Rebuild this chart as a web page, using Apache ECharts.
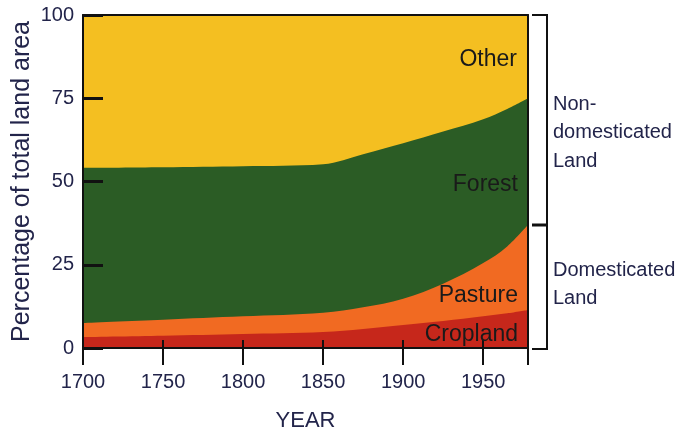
<!DOCTYPE html>
<html>
<head>
<meta charset="utf-8">
<script src="https://cdn.jsdelivr.net/npm/echarts@6/dist/echarts.min.js"></script>
<style>html,body{margin:0;padding:0;background:#fff}#c{width:681px;height:438px}</style>
</head>
<body>
<div id="c"></div>
<script>
const years    = [1700, 1750, 1800, 1850, 1875, 1900, 1925, 1950, 1965, 1978];
const cropland = [3.3, 3.7, 4.2, 4.8, 5.7, 6.9, 8.1, 9.5, 10.4, 11.4];
const pasture  = [4.2, 4.8, 5.3, 5.8, 6.5, 7.9, 11.2, 16.0, 20.1, 25.6];
const forest   = [46.6, 45.8, 45.1, 44.6, 46.0, 46.7, 45.7, 43.2, 41.3, 38.0];
const other    = [45.9, 45.7, 45.4, 44.8, 41.8, 38.5, 35.0, 31.3, 28.2, 25.0];
const seriesNames = ['Cropland', 'Pasture', 'Forest', 'Other'];
const yTicks = [0, 25, 50, 75, 100];
const xTicks = [1700, 1750, 1800, 1850, 1900, 1950];

const colors = ['#c6271b', '#f16a22', '#2b5c25', '#f4bf21'];
const axisText = '#22244a';
const font = 'Liberation Sans, Arial, Helvetica, sans-serif';

const valuesList = [cropland, pasture, forest, other];
// cumulative tops of each band (bottom band first)
const cumulative = valuesList.map((arr, k) =>
  years.map((y, i) => {
    let s = 0;
    for (let j = 0; j <= k; j++) s += valuesList[j][i];
    return [y, +s.toFixed(2)];
  }));

// draw from the top band down so lower bands paint over
const seriesList = [];
for (let k = valuesList.length - 1; k >= 0; k--) {
  seriesList.push({
    name: seriesNames[k], type: 'line', smooth: 0.35,
    symbol: 'none', xAxisIndex: 0, yAxisIndex: 0,
    data: cumulative[k],
    lineStyle: {width: 0},
    areaStyle: {color: colors[k], opacity: 1},
    z: 1
  });
}

const chart = echarts.init(document.getElementById('c'), null, {renderer: 'canvas'});
chart.setOption({
  animation: false,
  grid: {left: 83, right: 153, top: 15, bottom: 90, containLabel: false, outerBoundsMode: 'none'},
  xAxis: [
    {
      type: 'value', min: 1700, max: 1978, interval: 50,
      name: 'YEAR', nameLocation: 'middle', nameGap: 62, nameMoveOverlap: false,
      nameTextStyle: {color: axisText, fontSize: 22, fontFamily: font},
      axisLine: {show: true, lineStyle: {color: '#111', width: 2}},
      axisTick: {show: true, inside: false, length: 17, lineStyle: {color: '#111', width: 2}},
      axisLabel: {color: axisText, fontSize: 20, fontFamily: font, margin: 24,
        formatter: v => xTicks.includes(v) ? String(v) : ''},
      splitLine: {show: false}, z: 5
    },
    {
      type: 'value', min: 1700, max: 1978, interval: 50, position: 'bottom',
      axisLine: {show: false},
      axisTick: {show: true, inside: true, length: 8, lineStyle: {color: '#111', width: 2}},
      axisLabel: {show: false}, splitLine: {show: false}, z: 5
    },
    {
      type: 'value', min: 1700, max: 1978, position: 'top',
      axisLine: {show: true, lineStyle: {color: '#111', width: 2}},
      axisTick: {show: false}, axisLabel: {show: false}, splitLine: {show: false}, z: 5
    }
  ],
  yAxis: [
    {
      type: 'value', min: 0, max: 100, interval: 25,
      name: 'Percentage of total land area', nameLocation: 'middle', nameGap: 48, nameMoveOverlap: false,
      nameTextStyle: {color: axisText, fontSize: 25, fontFamily: font},
      axisLine: {show: true, lineStyle: {color: '#111', width: 2}},
      axisTick: {show: true, inside: true, length: 20, lineStyle: {color: '#111', width: 3}},
      axisLabel: {color: axisText, fontSize: 20, fontFamily: font, margin: 9,
        formatter: v => yTicks.includes(v) ? String(v) : ''},
      splitLine: {show: false}, z: 5
    },
    {
      type: 'value', min: 0, max: 100, position: 'right',
      axisLine: {show: true, lineStyle: {color: '#111', width: 2}},
      axisTick: {show: false}, axisLabel: {show: false}, splitLine: {show: false}, z: 5
    }
  ],
  series: seriesList,
  graphic: [
    {type: 'text', right: 681 - 517, top: 48, z: 10,
     style: {text: 'Other', fill: '#1a1a1a', font: '23px ' + font}},
    {type: 'text', right: 681 - 518, top: 173, z: 10,
     style: {text: 'Forest', fill: '#1a1a1a', font: '23px ' + font}},
    {type: 'text', right: 681 - 518, top: 284, z: 10,
     style: {text: 'Pasture', fill: '#1a1a1a', font: '23px ' + font}},
    {type: 'text', right: 681 - 518, top: 323, z: 10,
     style: {text: 'Cropland', fill: '#1a1a1a', font: '23px ' + font}},
    {type: 'line', z: 10, shape: {x1: 547, y1: 15, x2: 547, y2: 349}, style: {stroke: '#111', lineWidth: 2}},
    {type: 'line', z: 10, shape: {x1: 532, y1: 15, x2: 548, y2: 15}, style: {stroke: '#111', lineWidth: 2}},
    {type: 'line', z: 10, shape: {x1: 532, y1: 349, x2: 548, y2: 349}, style: {stroke: '#111', lineWidth: 2}},
    {type: 'line', z: 10, shape: {x1: 532, y1: 225, x2: 548, y2: 225}, style: {stroke: '#111', lineWidth: 3}},
    {type: 'text', left: 553, top: 90, z: 10,
     style: {text: 'Non-\ndomesticated\nLand', fill: axisText, font: '20px ' + font, lineHeight: 28.5}},
    {type: 'text', left: 553, top: 256, z: 10,
     style: {text: 'Domesticated\nLand', fill: axisText, font: '20px ' + font, lineHeight: 28.5}}
  ]
});
</script>
</body>
</html>
